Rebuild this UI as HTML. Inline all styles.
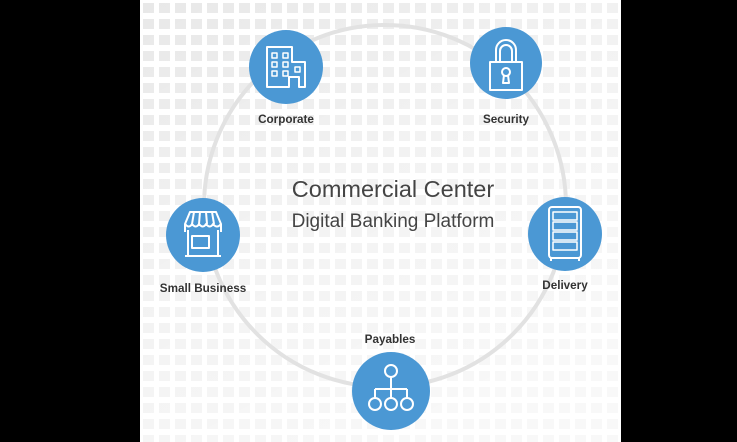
<!DOCTYPE html>
<html><head><style>
html,body{margin:0;padding:0;background:#000;width:737px;height:442px;overflow:hidden}
svg{display:block}
text{font-family:"Liberation Sans",Arial,sans-serif}
</style></head><body>
<svg width="737" height="442" viewBox="0 0 737 442">
<defs>
<pattern id="g" x="143" y="3" width="16" height="16" patternUnits="userSpaceOnUse">
<rect x="0" y="0" width="11" height="10" fill="#e8e8e8"/>
</pattern>
<linearGradient id="fade" x1="0" y1="0" x2="0.6" y2="1">
<stop offset="0" stop-color="#fff" stop-opacity="0"/>
<stop offset="0.5" stop-color="#fff" stop-opacity="0.45"/>
<stop offset="1" stop-color="#fff" stop-opacity="0.7"/>
</linearGradient>
</defs>
<rect x="0" y="0" width="737" height="442" fill="#000"/>
<rect x="140" y="0" width="481" height="442" fill="#fff"/>
<rect x="140" y="0" width="481" height="442" fill="url(#g)"/>
<rect x="140" y="0" width="481" height="442" fill="url(#fade)"/>
<circle cx="385" cy="206" r="181" fill="none" stroke="#e2e2e2" stroke-width="4"/>

<text x="393" y="197" font-size="23.5" fill="#444" text-anchor="middle">Commercial Center</text>
<text x="393" y="227" font-size="19" fill="#444" text-anchor="middle">Digital Banking Platform</text>

<g fill="#4b98d4">
<circle cx="286" cy="67" r="37"/>
<circle cx="506" cy="63" r="36"/>
<circle cx="203" cy="235" r="37"/>
<circle cx="565" cy="234" r="37"/>
<circle cx="391" cy="391" r="39"/>
</g>
<g fill="none" stroke="#fff" stroke-width="2" stroke-linejoin="round">
<path d="M267 87 V47 H292 V62 H305 V87 H299 V77 H289 V87 Z"/>
<path d="M272 53h5v5h-5zM283 53h5v5h-5zM272 62h5v5h-5zM283 62h5v5h-5zM272 71h5v5h-5zM283 71h5v5h-5zM295 67h5v5h-5z" stroke-width="1.5"/>
<path d="M496 62 V50 a10 10 0 0 1 20 0 V62"/>
<path d="M500 62 V51 a6 6 0 0 1 12 0 V62"/>
<rect x="490" y="62" width="32" height="28"/>
<circle cx="506" cy="72" r="4"/>
<path d="M504 75 l-1 8 h6 l-1 -8"/>
<path d="M185 232 V224 L190 212 H216 L221 224 V232"/>
<path d="M185 224 q4 5 7 0 q4 5 7 0 q4 5 7 0 q4 5 7 0 q4 5 8 0"/>
<path d="M194 212 l-2 12 M200 212 l-1 12 M206 212 l1 12 M212 212 l2 12"/>
<path d="M188 230 V256 H218 V230"/>
<rect x="192" y="236" width="17" height="12"/>
<path d="M185 256 H221"/>
<rect x="549" y="207" width="32" height="51" rx="3"/>
<path d="M553 212h24v8h-24zM553 222h24v8h-24zM553 232h24v8h-24zM553 242h24v8h-24z" stroke-width="1.5"/>
<path d="M551 258 v3 M579 258 v3"/>
<circle cx="391" cy="371" r="6"/>
<path d="M391 377 V389 M375 389 H407 M375 389 V398 M391 389 V398 M407 389 V398"/>
<circle cx="375" cy="404" r="6"/>
<circle cx="391" cy="404" r="6"/>
<circle cx="407" cy="404" r="6"/>
</g>
<g font-size="11.7" font-weight="bold" fill="#333" text-anchor="middle">
<text x="286" y="123">Corporate</text>
<text x="506" y="123">Security</text>
<text x="203" y="292">Small Business</text>
<text x="565" y="289">Delivery</text>
<text x="390" y="343">Payables</text>
</g>
</svg>
</body></html>
